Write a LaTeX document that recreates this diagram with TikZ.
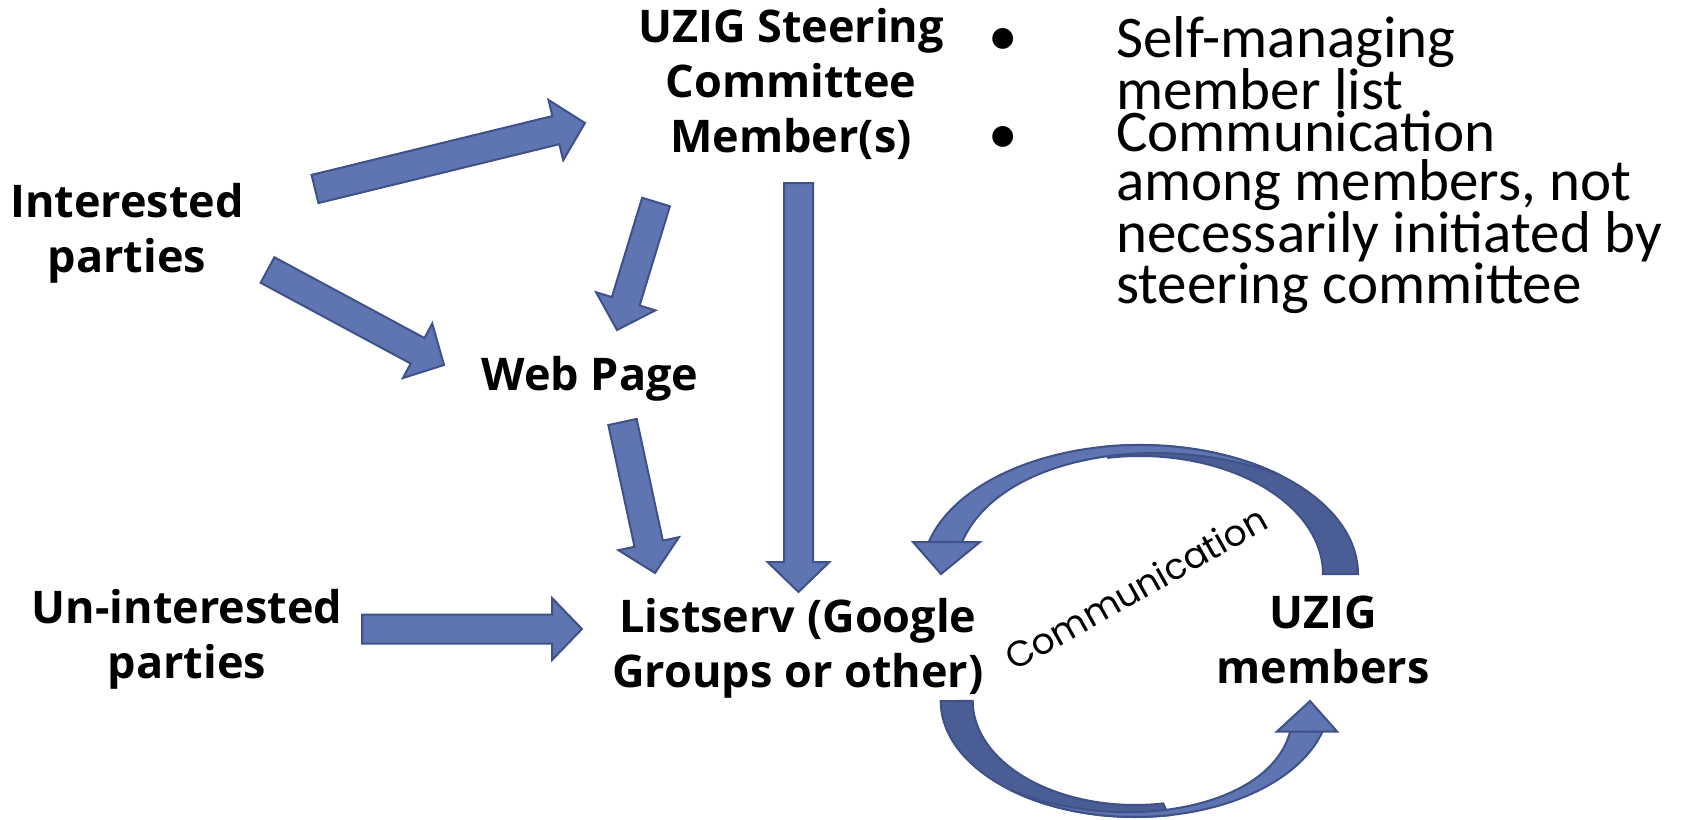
\documentclass[tikz,border=0pt]{standalone}
\usepackage{fontspec}
\setmainfont{Open Sans}
\newfontfamily\itemfont{Carlito}
\newfontfamily\commfont{Poppins}
\usetikzlibrary{calc}

\definecolor{arrowblue}{RGB}{94,117,178}
\definecolor{arrowdark}{RGB}{74,93,148}
\definecolor{arrowedge}{RGB}{63,81,136}

% block arrow from #1 to #2
\newcommand{\blockarrow}[2]{%
  \path ($(#2)!30pt!(#1)$) coordinate (hb);
  \draw[blockarr] ($(#1)!14.5pt!90:(#2)$) -- ($(hb)!14.5pt!90:(#2)$)
    -- ($(hb)!31pt!90:(#2)$) -- (#2) -- ($(hb)!31pt!-90:(#2)$)
    -- ($(hb)!14.5pt!-90:(#2)$) -- ($(#1)!14.5pt!-90:(#2)$) -- cycle;}

\begin{document}
\begin{tikzpicture}[x=1pt, y=-1pt,
  boldtext/.style={font=\bfseries\fontsize{45}{55}\selectfont, align=center, inner sep=0pt, anchor=base},
  itemtext/.style={font=\itemfont\fontsize{59}{48.5}\selectfont, align=left, inner sep=0pt, anchor=base west},
  blockarr/.style={fill=arrowblue, draw=arrowedge, line width=2pt, line join=miter},
  backface/.style={fill=arrowdark, draw=arrowedge, line width=2pt}
]
  \fill[white] (0,0) rectangle (1685,819);
  \useasboundingbox (0,0) rectangle (1685,819);

  % labels (anchored on the last line)
  \node[boldtext] (ip) at (127,272)  {Interested\\parties};
  \node[boldtext] (st) at (791,152)  {UZIG Steering\\Committee\\Member(s)};
  \node[boldtext] (wp) at (590,390)  {Web Page};
  \node[boldtext] (up) at (187,678)  {Un-interested\\parties};
  \node[boldtext] (ls) at (798,687)  {Listserv (Google\\Groups or other)};
  \node[boldtext] (um) at (1323,683) {UZIG\\members};
  \node[font=\commfont\fontsize{36}{40}\selectfont, rotate=29.4, inner sep=0pt] (comm) at (1136,588) {Communication};

  % bullet list
  \node[font=\itemfont\fontsize{59}{48.5}\selectfont, inner sep=0pt] (bul1) at (1003,42) {•};
  \node[font=\itemfont\fontsize{59}{48.5}\selectfont, inner sep=0pt] (bul2) at (1003,140) {•};
  \node[itemtext] (item1) at (1116,109.5) {Self-managing\\member list};
  \node[itemtext] (item2) at (1116,303.5) {Communication\\among members, not\\necessarily initiated by\\steering committee};

  % arrow ends
  \coordinate (ip-st1) at (315,189);   \coordinate (ip-st2) at (585,123);
  \coordinate (ip-wp1) at (267.5,270); \coordinate (ip-wp2) at (444,365);
  \coordinate (st-wp1) at (656,202);   \coordinate (st-wp2) at (617,330);
  \coordinate (st-ls1) at (798.5,183); \coordinate (st-ls2) at (798.5,592);
  \coordinate (wp-ls1) at (622.5,422); \coordinate (wp-ls2) at (655,573);
  \coordinate (up-ls1) at (362,629);   \coordinate (up-ls2) at (582,629);

  \blockarrow{ip-st1}{ip-st2}
  \blockarrow{ip-wp1}{ip-wp2}
  \blockarrow{st-wp1}{st-wp2}
  \blockarrow{st-ls1}{st-ls2}
  \blockarrow{wp-ls1}{wp-ls2}
  \blockarrow{up-ls1}{up-ls2}

  % curved arrow over the top, members -> listserv
  \draw[backface] (1358,574) arc[start angle=0, end angle=-100, x radius=218, y radius=129]
    -- (1108.2,457.8) arc[start angle=-100, end angle=0, x radius=183, y radius=118] -- cycle;
  \draw[blockarr] (928.8,541.9) arc[start angle=-165.6, end angle=-50, x radius=218, y radius=129]
    .. controls (1160,430) and (1000,455) .. (962,542) -- cycle;
  \draw[blockarr] (913,542) -- (980,542) -- (941,574) -- cycle;

  % curved arrow underneath, listserv -> members
  \draw[backface] (940.7,701) arc[start angle=180, end angle=80, x radius=194.3, y radius=116]
    -- (1163.2,803.4) arc[start angle=80, end angle=180, x radius=162.3, y radius=104] -- cycle;
  \draw[blockarr] (1322.4,731.7) arc[start angle=15.35, end angle=130, x radius=194.3, y radius=116]
    .. controls (1120,835) and (1270,810) .. (1290.3,731) -- cycle;
  \draw[blockarr] (1276.7,731.7) -- (1337.3,731.7) -- (1310,701) -- cycle;
\end{tikzpicture}
\end{document}
